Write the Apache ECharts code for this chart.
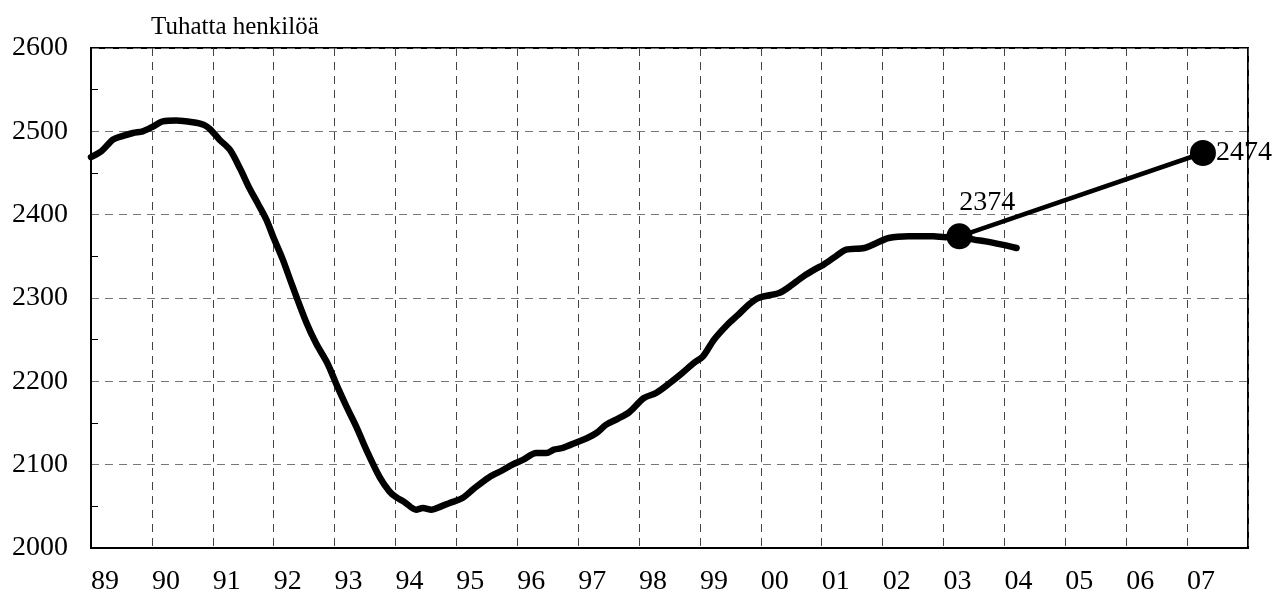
<!DOCTYPE html>
<html>
<head>
<meta charset="utf-8">
<script src="https://cdn.jsdelivr.net/npm/echarts@6/dist/echarts.min.js"></script>
<style>
html, body { margin: 0; padding: 0; background: #fff; }
#chart { width: 1287px; height: 598px; }
</style>
</head>
<body>
<div id="chart"></div>
<script>
// Työlliset, tuhatta henkilöä (trendi)
var years = [1989.0, 1989.17, 1989.36, 1989.5, 1989.69, 1989.85, 1990.0, 1990.18, 1990.4, 1990.67,
	1990.85, 1990.95, 1991.11, 1991.28, 1991.45, 1991.6, 1991.75, 1991.88, 1992.0, 1992.15,
	1992.3, 1992.54, 1992.7, 1992.88, 1993.05, 1993.2, 1993.36, 1993.52, 1993.74, 1993.9,
	1994.01, 1994.15, 1994.34, 1994.45, 1994.59, 1994.75, 1994.89, 1995.1, 1995.3, 1995.54,
	1995.75, 1995.92, 1996.1, 1996.31, 1996.48, 1996.6, 1996.74, 1996.98, 1997.15, 1997.3,
	1997.46, 1997.65, 1997.84, 1998.08, 1998.28, 1998.54, 1998.71, 1998.9, 1999.05, 1999.23,
	1999.45, 1999.63, 1999.8, 1999.96, 2000.3, 2000.44, 2000.7, 2000.9, 2001.03, 2001.23,
	2001.4, 2001.7, 2001.9, 2002.1, 2002.43, 2002.83, 2003.03, 2003.26, 2003.5, 2003.69,
	2003.96, 2004.2];
var values = [2469, 2476, 2490, 2494, 2498, 2500, 2505, 2512, 2513, 2511,
	2508, 2503, 2490, 2478, 2455, 2432, 2412, 2394, 2372, 2346,
	2316, 2270, 2245, 2222, 2193, 2169, 2145, 2118, 2085, 2068,
	2061, 2055, 2046, 2048, 2046, 2050, 2054, 2060, 2072, 2085,
	2093, 2100, 2106, 2114, 2114, 2118, 2120, 2127, 2132, 2138,
	2148, 2155, 2163, 2180, 2186, 2200, 2210, 2222, 2230, 2250,
	2268, 2280, 2292, 2300, 2306, 2312, 2326, 2335, 2340, 2350,
	2358, 2360, 2366, 2372, 2374, 2374, 2373, 2374, 2370, 2368,
	2364, 2360];
// tavoite
var goalYears = [2003.26, 2007.26];
var goalValues = [2374, 2474];

var yTicks = [2000, 2100, 2200, 2300, 2400, 2500, 2600];

var myChart = echarts.init(document.getElementById('chart'));
var serif = '"Liberation Serif", "DejaVu Serif", serif';

var mainData = years.map(function (y, i) { return [y, values[i]]; });
var goalLabels = [
	{ position: 'top', offset: [28, -2] },
	{ position: 'right', distance: 0 }
];
var goalData = goalYears.map(function (y, i) {
	return {
		value: [y, goalValues[i]],
		label: goalLabels[i]
	};
});

var option = {
	animation: false,
	title: {
		text: 'Tuhatta henkilöä',
		left: 146,
		top: 10,
		textStyle: { fontFamily: serif, fontSize: 25, fontWeight: 'normal', color: '#000' }
	},
	grid: {
		left: 91, right: 39, top: 48, bottom: 50,
		show: true,
		borderColor: '#000',
		borderWidth: 2
	},
	xAxis: {
		type: 'value',
		min: 1989,
		max: 2008,
		interval: 1,
		axisLine: { show: true, lineStyle: { color: '#000', width: 2 } },
		axisTick: { show: false },
		axisLabel: {
			color: '#000',
			fontFamily: serif,
			fontSize: 28,
			align: 'left',
			margin: 20,
			showMaxLabel: false,
			formatter: function (v) {
				return String(v % 100).padStart(2, '0');
			}
		},
		splitLine: { show: true, lineStyle: { color: '#444', width: 1, type: [8, 6] } }
	},
	yAxis: {
		type: 'value',
		min: yTicks[0],
		max: yTicks[yTicks.length - 1],
		interval: 100,
		axisLine: { show: true, lineStyle: { color: '#000', width: 2 } },
		axisTick: { show: false, inside: true },
		minorTick: { show: true, splitNumber: 2, length: 7, lineStyle: { color: '#000', width: 1 } },
		axisLabel: {
			color: '#000', fontFamily: serif, fontSize: 28, margin: 23,
			formatter: function (v) { return String(v); }
		},
		splitLine: { show: true, lineStyle: { color: '#777', width: 1, type: [8, 6] } }
	},
	series: [{
		name: 'Työlliset',
		type: 'line',
		data: mainData,
		smooth: 0.3,
		showSymbol: false,
		lineStyle: { color: '#000', width: 6.5, cap: 'round', join: 'round' },
		z: 2
	}, {
		name: 'Tavoite',
		type: 'line',
		data: goalData,
		symbol: 'circle',
		symbolSize: 26,
		itemStyle: { color: '#000' },
		lineStyle: { color: '#000', width: 4.5 },
		label: {
			show: true,
			color: '#000',
			fontFamily: serif,
			fontSize: 28,
			formatter: function (p) { return p.value[1]; }
		},
		z: 3
	}]
};
myChart.setOption(option);
window.addEventListener('resize', function () {
	myChart.resize();
});
</script>
</body>
</html>
